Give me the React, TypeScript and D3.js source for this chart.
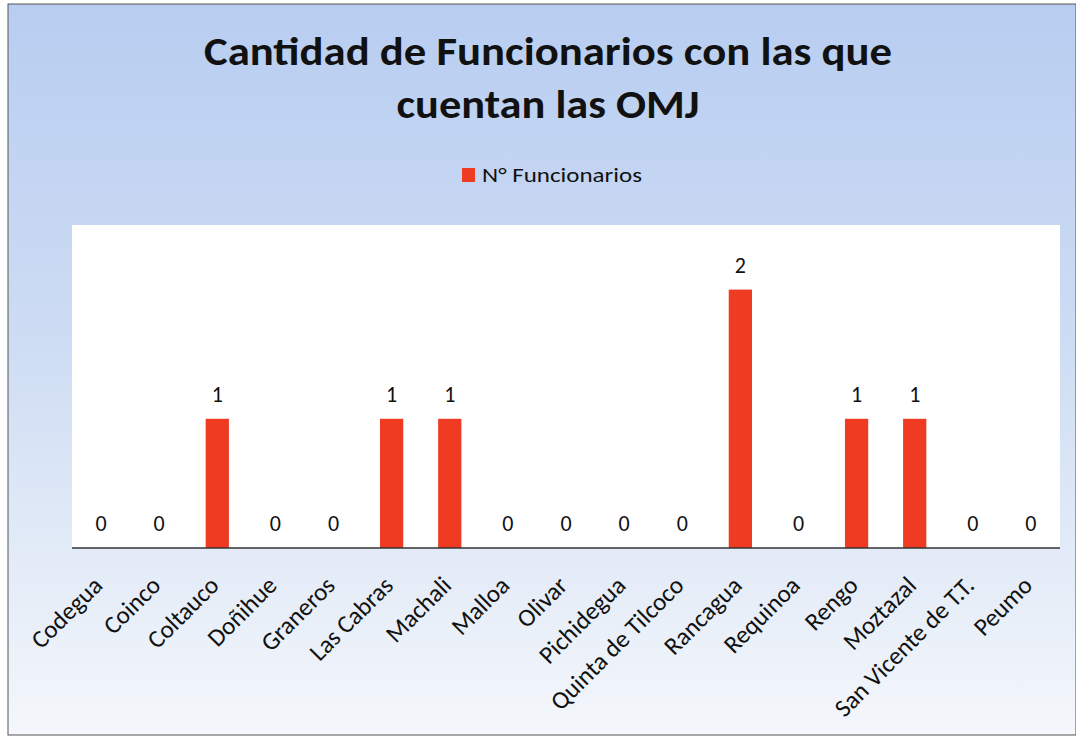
import * as d3 from "d3";

const comunas = [
  "Codegua",
  "Coinco",
  "Coltauco",
  "Doñihue",
  "Graneros",
  "Las Cabras",
  "Machali",
  "Malloa",
  "Olivar",
  "Pichidegua",
  "Quinta de Tilcoco",
  "Rancagua",
  "Requinoa",
  "Rengo",
  "Moztazal",
  "San Vicente de T.T.",
  "Peumo",
];
const funcionarios = [0, 0, 1, 0, 0, 1, 1, 0, 0, 0, 0, 2, 0, 1, 1, 0, 0];
const seriesName = "N° Funcionarios";
const titleLines = ["Cantidad de Funcionarios con las que", "cuentan las OMJ"];

const W = 1076;
const H = 738;
const plot = { left: 72, right: 1060, top: 225, bottom: 548 };
const font = "Carlito, Calibri, Lato, sans-serif";

export default function App() {
  const x = d3
    .scaleBand<string>()
    .domain(comunas)
    .range([plot.left, plot.right])
    .paddingInner(0.6)
    .paddingOuter(0.3);
  const y = d3.scaleLinear().domain([0, 2.5]).range([plot.bottom, plot.top]);

  return (
    <svg
      width={W}
      height={H}
      style={{ position: "absolute", left: 0, top: 0 }}
      fontFamily={font}
    >
      <defs>
        <linearGradient id="bg" x1="0" y1="0" x2="0" y2="1">
          <stop offset="0" stopColor="#b8cdf1" />
          <stop offset="0.45" stopColor="#cddcf3" />
          <stop offset="1" stopColor="#f4f7fb" />
        </linearGradient>
      </defs>
      <rect x={8} y={4} width={W - 8} height={731} fill="url(#bg)" stroke="#555" strokeWidth={1} />

      {titleLines.map((t, i) => (
        <text
          key={i}
          x={548}
          y={65 + i * 53}
          textAnchor="middle"
          fontSize={41}
          fontWeight={900}
          fill="#111"
          textLength={i === 0 ? 688 : 303}
          lengthAdjust="spacingAndGlyphs"
        >
          {t}
        </text>
      ))}

      <rect x={462} y={168} width={13} height={14} fill="#ee3b22" />
      <text x={482} y={182} fontSize={21} fill="#111" textLength={160} lengthAdjust="spacingAndGlyphs">
        {seriesName}
      </text>

      <rect x={plot.left} y={plot.top} width={plot.right - plot.left} height={plot.bottom - plot.top} fill="#fff" />

      {comunas.map((c, i) => {
        const v = funcionarios[i];
        const bx = x(c)!;
        const cx = bx + x.bandwidth() / 2;
        return (
          <g key={c}>
            <rect x={bx} y={y(v)} width={x.bandwidth()} height={y(0) - y(v)} fill="#ee3b22" />
            <text x={cx} y={y(v) - 17} textAnchor="middle" fontSize={22} fill="#111">
              {v}
            </text>
            <text
              transform={`translate(${cx + 3},${plot.bottom + 39}) rotate(-45)`}
              textAnchor="end"
              fontSize={25}
              fill="#111"
            >
              {c}
            </text>
          </g>
        );
      })}

      <line x1={plot.left} x2={plot.right} y1={plot.bottom} y2={plot.bottom} stroke="#333" strokeWidth={1.5} />
    </svg>
  );
}
